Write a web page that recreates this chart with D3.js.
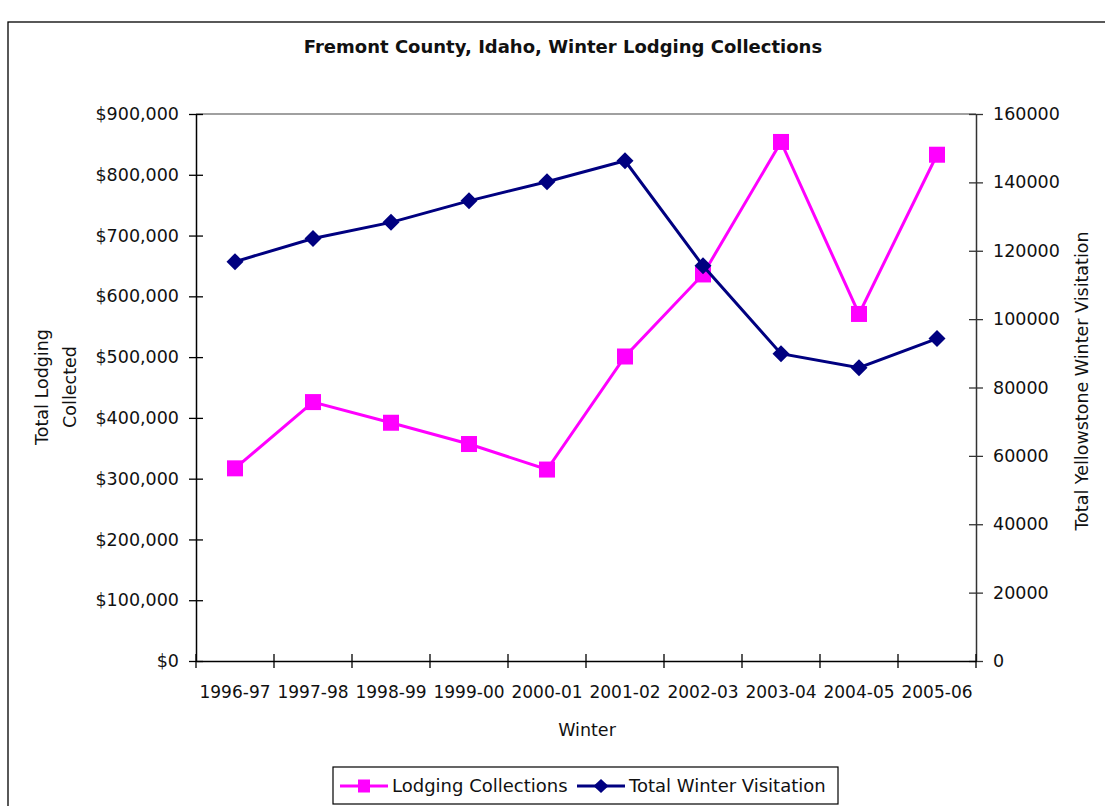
<!DOCTYPE html>
<html>
<head>
<meta charset="utf-8">
<script src="https://cdn.jsdelivr.net/npm/d3@7"></script>
<style>
  html, body { margin: 0; padding: 0; background: #fff; }
  svg { display: block; }
  text { font-family: "DejaVu Sans", Verdana, sans-serif; fill: #111; }
</style>
</head>
<body>
<svg id="chart" width="1105" height="806"></svg>
<script>
// Winter seasons on the category axis
const winters = ["1996-97", "1997-98", "1998-99", "1999-00", "2000-01",
                 "2001-02", "2002-03", "2003-04", "2004-05", "2005-06"];
// Fremont County lodging tax collected per winter (USD)
const lodgingCollections = [317000, 426000, 392000, 357000, 315000,
                            501000, 636000, 854000, 571000, 833000];
// Total Yellowstone winter visitors
const winterVisitation = [116800, 123600, 128300, 134600, 140200,
                          146300, 115600, 89900, 85800, 94300];
// Axis ticks
const leftTicks = [0, 100000, 200000, 300000, 400000, 500000, 600000, 700000, 800000, 900000];
const rightTicks = [0, 20000, 40000, 60000, 80000, 100000, 120000, 140000, 160000];

const PINK = "#FF00FF", NAVY = "#000080";
const FONT = "'DejaVu Sans', Verdana, sans-serif";
const svg = d3.select("#chart");
const plot = { left: 196, right: 976, top: 114, bottom: 661 };

// Chart frame
svg.append("rect")
  .attr("x", 8).attr("y", 22).attr("width", 1120).attr("height", 820)
  .attr("fill", "none").attr("stroke", "#000").attr("stroke-width", 1.3);

svg.append("text")
  .attr("x", 563).attr("y", 53)
  .attr("text-anchor", "middle")
  .style("font-size", "18px").style("font-weight", "bold")
  .text("Fremont County, Idaho, Winter Lodging Collections");

const x = d3.scaleBand().domain(winters).range([plot.left, plot.right]);
const yL = d3.scaleLinear().domain([0, 900000]).range([plot.bottom, plot.top]);
const yR = d3.scaleLinear().domain([0, 160000]).range([plot.bottom, plot.top]);
const cx = d => x(d) + x.bandwidth() / 2;

// Top edge of plot area
svg.append("line")
  .attr("x1", plot.left).attr("x2", plot.right)
  .attr("y1", plot.top).attr("y2", plot.top)
  .attr("stroke", "#808080").attr("stroke-width", 1.5);

function styleAxis(g, color, size) {
  g.attr("font-family", null).attr("font-size", null);
  g.select(".domain").attr("stroke", color).attr("stroke-width", 1.5);
  g.selectAll(".tick line").attr("stroke", color).attr("stroke-width", 1.3);
  g.selectAll(".tick text").style("font-size", size).attr("fill", "#111")
    .style("font-family", FONT);
}

// Left axis (dollars)
const fmtDollar = d => "$" + d3.format(",")(d);
const gL = svg.append("g").attr("transform", `translate(${plot.left},0)`)
  .call(d3.axisLeft(yL).tickValues(leftTicks).tickFormat(fmtDollar)
    .tickSizeOuter(0).tickSizeInner(7));
gL.selectAll(".tick line").attr("x2", 7).attr("x1", -7);
styleAxis(gL, "#000", "17.5px");
gL.selectAll(".tick text").attr("x", -17);

// Right axis (visitors)
const gR = svg.append("g").attr("transform", `translate(${plot.right},0)`)
  .call(d3.axisRight(yR).tickValues(rightTicks).tickFormat(d3.format("d"))
    .tickSizeOuter(0).tickSizeInner(7));
gR.selectAll(".tick line").attr("x1", -7).attr("x2", 7);
styleAxis(gR, "#333", "17.5px");
gR.selectAll(".tick text").attr("x", 17);

// Bottom axis with ticks at band boundaries
const gB = svg.append("g").attr("transform", `translate(0,${plot.bottom})`)
  .call(d3.axisBottom(x).tickSizeOuter(0).tickSize(0));
styleAxis(gB, "#000", "17px");
gB.selectAll(".tick text").attr("dy", null).attr("y", 37);
const edges = winters.map(w => x(w)).concat([x(winters[winters.length - 1]) + x.bandwidth()]);
gB.selectAll(".edge").data(edges).enter().append("line")
  .attr("class", "edge")
  .attr("x1", d => d).attr("x2", d => d)
  .attr("y1", -7).attr("y2", 7)
  .attr("stroke", "#000").attr("stroke-width", 1.3);

// Axis titles
svg.append("text").attr("x", 587).attr("y", 736).attr("text-anchor", "middle")
  .style("font-size", "17.5px").text("Winter");
const lt = svg.append("text").attr("transform", "translate(48,387) rotate(-90)")
  .attr("text-anchor", "middle").style("font-size", "17.5px");
lt.append("tspan").attr("x", 0).attr("dy", 0).text("Total Lodging");
lt.append("tspan").attr("x", 0).attr("dy", 28).text("Collected");
svg.append("text").attr("transform", "translate(1088,381) rotate(-90)")
  .attr("text-anchor", "middle").style("font-size", "17.5px")
  .text("Total Yellowstone Winter Visitation");

// Series lines
const lineL = d3.line().x((d, i) => cx(winters[i])).y(d => yL(d));
const lineR = d3.line().x((d, i) => cx(winters[i])).y(d => yR(d));

svg.append("path").datum(lodgingCollections).attr("d", lineL)
  .attr("fill", "none").attr("stroke", PINK).attr("stroke-width", 3);
svg.selectAll(".sq").data(lodgingCollections).enter().append("rect")
  .attr("class", "sq")
  .attr("x", (d, i) => cx(winters[i]) - 8).attr("y", d => yL(d) - 8)
  .attr("width", 16).attr("height", 16).attr("fill", PINK);

svg.append("path").datum(winterVisitation).attr("d", lineR)
  .attr("fill", "none").attr("stroke", NAVY).attr("stroke-width", 3);
const diamond = "M0,-8.5L8.5,0L0,8.5L-8.5,0Z";
svg.selectAll(".dm").data(winterVisitation).enter().append("path")
  .attr("class", "dm")
  .attr("transform", (d, i) => `translate(${cx(winters[i])},${yR(d)})`)
  .attr("d", diamond).attr("fill", NAVY);

// Legend
const lg = svg.append("g");
lg.append("rect").attr("x", 333).attr("y", 767).attr("width", 505).attr("height", 37)
  .attr("fill", "#fff").attr("stroke", "#000").attr("stroke-width", 1.2);
lg.append("line").attr("x1", 340).attr("x2", 388).attr("y1", 786).attr("y2", 786)
  .attr("stroke", PINK).attr("stroke-width", 3);
lg.append("rect").attr("x", 358).attr("y", 779.5).attr("width", 12).attr("height", 13).attr("fill", PINK);
lg.append("text").attr("x", 392).attr("y", 792).style("font-size", "18px").text("Lodging Collections");
lg.append("line").attr("x1", 577).attr("x2", 625).attr("y1", 786).attr("y2", 786)
  .attr("stroke", NAVY).attr("stroke-width", 3);
lg.append("path").attr("transform", "translate(601,786)").attr("d", "M0,-7L7.5,0L0,7L-7.5,0Z").attr("fill", NAVY);
lg.append("text").attr("x", 629).attr("y", 792).style("font-size", "18px").text("Total Winter Visitation");
</script>
</body>
</html>
